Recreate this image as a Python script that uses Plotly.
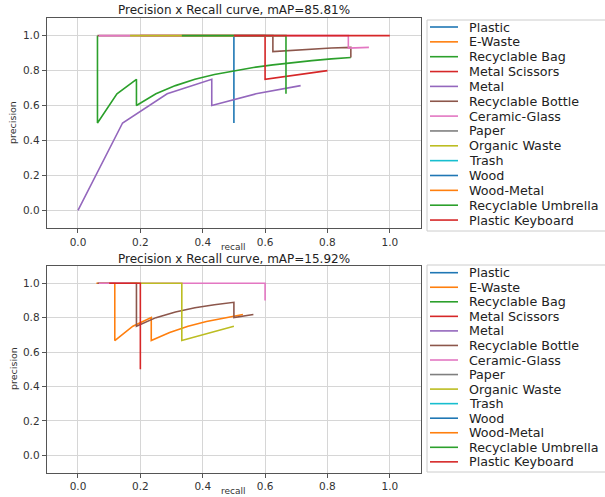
import plotly.graph_objects as go

W, H = 605, 497

CLASSES = ["Plastic", "E-Waste", "Recyclable Bag", "Metal Scissors", "Metal",
           "Recyclable Bottle", "Ceramic-Glass", "Paper", "Organic Waste", "Trash",
           "Wood", "Wood-Metal", "Recyclable Umbrella", "Plastic Keyboard"]
COLORS = ["#1f77b4", "#ff7f0e", "#2ca02c", "#d62728", "#9467bd", "#8c564b", "#e377c2",
          "#7f7f7f", "#bcbd22", "#17becf", "#1f77b4", "#ff7f0e", "#2ca02c", "#d62728"]

TITLES = ["Precision x Recall curve, mAP=85.81%", "Precision x Recall curve, mAP=15.92%"]
TICKS = [0.0, 0.2, 0.4, 0.6, 0.8, 1.0]
TICK_LABELS = ["0.0", "0.2", "0.4", "0.6", "0.8", "1.0"]

# ---- top chart (mAP 85.81%) : one list per class, same order as CLASSES ----
TOP_RECALL = [
    [0.5, 0.5],
    [],
    [0.0625, 0.0625, 0.125, 0.1875, 0.1875, 0.25, 0.3125, 0.375, 0.4375, 0.5, 0.5625, 0.625, 0.6875, 0.75, 0.8125, 0.875],
    [0.2, 0.4, 0.6, 0.6, 0.8],
    [0.0, 0.143, 0.286, 0.429, 0.429, 0.571, 0.714],
    [0.0625, 0.125, 0.1875, 0.25, 0.3125, 0.375, 0.4375, 0.5, 0.5625, 0.625, 0.625, 0.6875, 0.75, 0.8125, 0.875, 0.875],
    [0.067, 0.133, 0.2, 0.267, 0.333, 0.4, 0.467, 0.533, 0.6, 0.667, 0.733, 0.8, 0.867, 0.867, 0.933],
    [],
    [0.167, 0.333, 0.5],
    [],
    [],
    [],
    [0.333, 0.667, 0.667],
    [0.5, 1.0],
]
TOP_PRECISION = [
    [1.0, 0.5],
    [],
    [1.0, 0.5, 0.667, 0.75, 0.6, 0.667, 0.714, 0.75, 0.778, 0.8, 0.818, 0.833, 0.846, 0.857, 0.867, 0.875],
    [1.0, 1.0, 1.0, 0.75, 0.8],
    [0.0, 0.5, 0.667, 0.75, 0.6, 0.667, 0.714],
    [1.0, 1.0, 1.0, 1.0, 1.0, 1.0, 1.0, 1.0, 1.0, 1.0, 0.909, 0.917, 0.923, 0.929, 0.933, 0.875],
    [1.0, 1.0, 1.0, 1.0, 1.0, 1.0, 1.0, 1.0, 1.0, 1.0, 1.0, 1.0, 1.0, 0.929, 0.933],
    [],
    [1.0, 1.0, 1.0],
    [],
    [],
    [],
    [1.0, 1.0, 0.667],
    [1.0, 1.0],
]

# ---- bottom chart (mAP 15.92%) ----
BOTTOM_RECALL = [
    [],
    [0.059, 0.118, 0.118, 0.176, 0.235, 0.235, 0.294, 0.353, 0.412, 0.471, 0.529],
    [],
    [],
    [],
    [0.0625, 0.125, 0.1875, 0.1875, 0.25, 0.3125, 0.375, 0.4375, 0.5, 0.5, 0.5625],
    [0.067, 0.133, 0.2, 0.267, 0.333, 0.4, 0.467, 0.533, 0.6, 0.6],
    [],
    [0.167, 0.333, 0.333, 0.5],
    [],
    [],
    [],
    [],
    [0.1, 0.2, 0.2, 0.2],
]
BOTTOM_PRECISION = [
    [],
    [1.0, 1.0, 0.667, 0.75, 0.8, 0.667, 0.714, 0.75, 0.778, 0.8, 0.818],
    [],
    [],
    [],
    [1.0, 1.0, 1.0, 0.75, 0.8, 0.833, 0.857, 0.875, 0.889, 0.8, 0.818],
    [1.0, 1.0, 1.0, 1.0, 1.0, 1.0, 1.0, 1.0, 1.0, 0.9],
    [],
    [1.0, 1.0, 0.667, 0.75],
    [],
    [],
    [],
    [],
    [1.0, 1.0, 0.667, 0.5],
]


def px(x):
    return x / W


def py(y):
    return 1 - y / H


fig = go.Figure()

panels = [
    (TOP_RECALL, TOP_PRECISION, "x", "y"),
    (BOTTOM_RECALL, BOTTOM_PRECISION, "x2", "y2"),
]
for rec, prec, xa, ya in panels:
    for name, color, r, p in zip(CLASSES, COLORS, rec, prec):
        fig.add_trace(go.Scatter(x=r, y=p, mode="lines", name=name, xaxis=xa, yaxis=ya,
                                 line=dict(color=color, width=1.6), showlegend=False,
                                 hoverinfo="skip"))

FONT = "DejaVu Sans"
axis_common = dict(
    range=[-0.1, 1.1], tickvals=TICKS, ticktext=TICK_LABELS,
    showgrid=True, gridcolor="#d6d6d6", gridwidth=1, zeroline=False,
    showline=True, mirror=True, linecolor="#555555", linewidth=1.2,
    ticks="outside", ticklen=4, tickcolor="#555555", tickwidth=1,
    tickfont=dict(family=FONT, size=10.5, color="#333333"),
)

x_dom = [px(46.8), px(421)]
top_dom = [py(227.8), py(18.2)]
bot_dom = [py(472.5), py(266)]

fig.update_layout(
    width=W, height=H,
    margin=dict(l=0, r=0, t=0, b=0),
    paper_bgcolor="white", plot_bgcolor="white",
    xaxis=dict(domain=x_dom, anchor="y", **axis_common),
    yaxis=dict(domain=top_dom, anchor="x", **axis_common),
    xaxis2=dict(domain=x_dom, anchor="y2", **axis_common),
    yaxis2=dict(domain=bot_dom, anchor="x2", **axis_common),
    showlegend=False,
)

annotations = []
shapes = []
xc = (x_dom[0] + x_dom[1]) / 2
title_y = [10, 258.5]
recall_y = [247, 491]
prec_y = [123, 369]
for i in range(2):
    annotations.append(dict(text=TITLES[i], x=xc, y=py(title_y[i]), xref="paper", yref="paper",
                            showarrow=False, xanchor="center", yanchor="middle",
                            font=dict(family=FONT, size=12, color="#222222")))
    annotations.append(dict(text="recall", x=xc, y=py(recall_y[i]), xref="paper", yref="paper",
                            showarrow=False, xanchor="center", yanchor="middle",
                            font=dict(family=FONT, size=9, color="#333333")))
    annotations.append(dict(text="precision", x=px(13), y=py(prec_y[i]), xref="paper", yref="paper",
                            showarrow=False, xanchor="center", yanchor="middle", textangle=-90,
                            font=dict(family=FONT, size=9.5, color="#333333")))

# manual legends (one per panel), built from CLASSES / COLORS
legend_boxes = [(20, 231, 27, 14.85), (265, 472, 272.7, 14.55)]
for top, bottom, first, step in legend_boxes:
    shapes.append(dict(type="rect", xref="paper", yref="paper",
                       x0=px(427), x1=px(640), y0=py(bottom), y1=py(top),
                       line=dict(color="#cccccc", width=1), fillcolor="white", layer="above"))
    for k, (name, color) in enumerate(zip(CLASSES, COLORS)):
        yy = first + k * step
        shapes.append(dict(type="line", xref="paper", yref="paper",
                           x0=px(430), x1=px(458), y0=py(yy), y1=py(yy),
                           line=dict(color=color, width=1.6), layer="above"))
        annotations.append(dict(text=name, x=px(467), y=py(yy), xref="paper", yref="paper",
                                showarrow=False, xanchor="left", yanchor="middle",
                                font=dict(family=FONT, size=12.7, color="#222222")))

fig.update_layout(annotations=annotations, shapes=shapes)
# remove the browser's default 8px body margin so the 605x497 figure fills the window
fig.write_html("out.html", config={"displayModeBar": False},
               post_script="document.body.style.margin='0';")
